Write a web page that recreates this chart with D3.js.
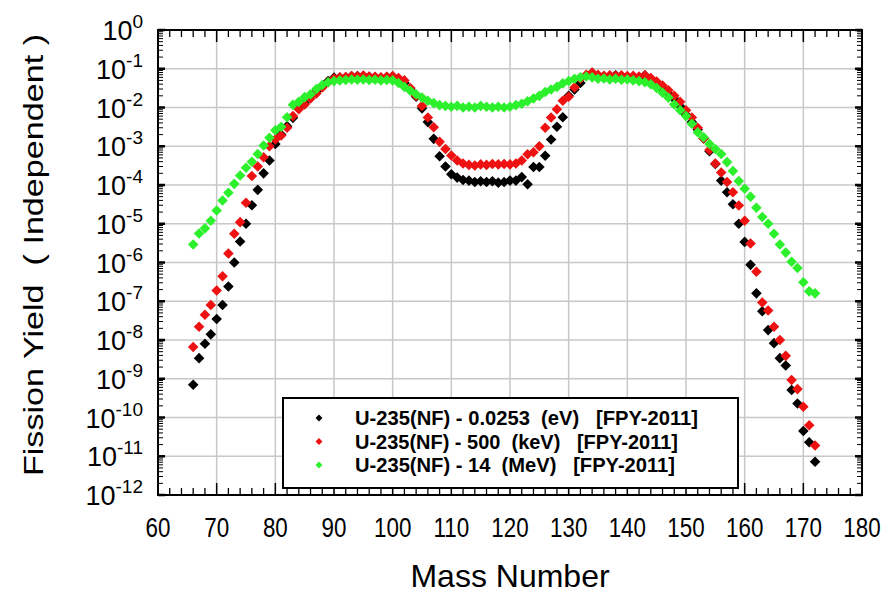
<!DOCTYPE html>
<html>
<head>
<meta charset="utf-8">
<script src="https://cdn.jsdelivr.net/npm/d3@7"></script>
<style>
  body { margin: 0; background: #fff; }
  svg text { font-family: "Liberation Sans", Arial, sans-serif; fill: #000; }
</style>
</head>
<body>
<div id="chart"></div>
<script>
// mass numbers 66..172
const massNumbers = d3.range(66, 173);

// U-235 thermal (0.0253 eV)
const yieldThermal = [
  7e-10, 3.4e-9, 8e-9, 1.4e-8, 3.5e-8, 8e-8, 2.4e-7, 1e-6, 3.5e-6, 1e-5,
  3e-5, 7.5e-5, 2e-4, 4.3e-4, 1.15e-3, 2e-3, 3.3e-3, 5.4e-3, 1e-2, 1.3e-2,
  2e-2, 2.6e-2, 3.6e-2, 4.8e-2, 5.9e-2, 5.9e-2, 6e-2, 6.4e-2, 6.5e-2, 6.5e-2,
  6.2e-2, 6e-2, 5.8e-2, 6.1e-2, 6.3e-2, 5.2e-2, 4.3e-2, 3e-2, 1.9e-2, 9.5e-3,
  4.2e-3, 1.55e-3, 5.5e-4, 3e-4, 1.9e-4, 1.55e-4, 1.35e-4, 1.3e-4, 1.2e-4, 1.25e-4,
  1.2e-4, 1.25e-4, 1.15e-4, 1.2e-4, 1.3e-4, 1.3e-4, 1.6e-4, 1.05e-4, 2.9e-4, 2.9e-4,
  5.7e-4, 1.5e-3, 3.2e-3, 5.6e-3, 2e-2, 2.9e-2, 4.3e-2, 6.7e-2, 7.9e-2, 6.5e-2,
  6.3e-2, 6.2e-2, 6.8e-2, 6.4e-2, 6.2e-2, 5.9e-2, 5.9e-2, 6.8e-2, 5.5e-2, 3.9e-2,
  3e-2, 2.25e-2, 1.67e-2, 1.08e-2, 6.5e-3, 4.2e-3, 2.7e-3, 1.6e-3, 7.4e-4, 3.5e-4,
  1.3e-4, 6.5e-5, 3.2e-5, 1e-5, 3.4e-6, 8.7e-7, 1.6e-7, 5.5e-8, 1.8e-8, 8.3e-9,
  3.4e-9, 2.2e-9, 5.1e-10, 2.3e-10, 4.5e-11, 2.3e-11, 7.2e-12
];

// U-235 500 keV
const yieldFast = [
  6.6e-9, 2.2e-8, 4.5e-8, 8e-8, 1.9e-7, 4.4e-7, 1.7e-6, 5.5e-6, 1.1e-5, 3.5e-5,
  1.7e-4, 3e-4, 5.2e-4, 1e-3, 1.5e-3, 1.9e-3, 3e-3, 6e-3, 9e-3, 1.2e-2,
  1.7e-2, 2.3e-2, 3.3e-2, 4.5e-2, 5.6e-2, 6e-2, 6.1e-2, 6.5e-2, 6.4e-2, 6.7e-2,
  6.3e-2, 6.2e-2, 6e-2, 6.2e-2, 6.5e-2, 5.8e-2, 5e-2, 3.2e-2, 2e-2, 1.1e-2,
  5.5e-3, 3.1e-3, 1.3e-3, 8.5e-4, 5.8e-4, 4.3e-4, 3.6e-4, 3.3e-4, 3.2e-4, 3.4e-4,
  3.3e-4, 3.5e-4, 3.4e-4, 3.5e-4, 3.4e-4, 3.6e-4, 4.3e-4, 6.2e-4, 7e-4, 1e-3,
  3e-3, 5.5e-3, 9e-3, 1.5e-2, 1.9e-2, 3.3e-2, 5.5e-2, 7e-2, 8e-2, 7e-2,
  6.6e-2, 6.8e-2, 6.6e-2, 6.8e-2, 6.5e-2, 6.6e-2, 6.3e-2, 6.8e-2, 5.8e-2, 4.7e-2,
  3.7e-2, 2.8e-2, 2e-2, 1.4e-2, 8.5e-3, 5.5e-3, 3e-3, 1.6e-3, 8e-4, 3.6e-4,
  2.1e-4, 1.2e-4, 6.5e-5, 2.95e-5, 1.2e-5, 3.1e-6, 5.8e-7, 9.3e-8, 5.8e-8, 2.2e-8,
  1e-8, 3.9e-9, 9.3e-10, 5.4e-10, 1.9e-10, 6.3e-11, 1.9e-11
];

// U-235 14 MeV
const yield14MeV = [
  2.9e-6, 5.6e-6, 7.6e-6, 1.2e-5, 2.2e-5, 4e-5, 6.3e-5, 1.07e-4, 1.75e-4, 2.8e-4,
  4e-4, 6.3e-4, 1.05e-3, 1.65e-3, 2.6e-3, 3.2e-3, 5.6e-3, 1.17e-2, 1.4e-2, 1.85e-2,
  2.2e-2, 3e-2, 3.8e-2, 4.5e-2, 4.8e-2, 5e-2, 5.1e-2, 5.3e-2, 5.2e-2, 5.3e-2,
  5.1e-2, 5.2e-2, 5e-2, 5.1e-2, 5e-2, 4.3e-2, 3.4e-2, 2.7e-2, 2.2e-2, 1.8e-2,
  1.5e-2, 1.3e-2, 1.15e-2, 1.1e-2, 1.05e-2, 1.1e-2, 1e-2, 1.05e-2, 1e-2, 1.1e-2,
  1.05e-2, 1e-2, 1.05e-2, 1e-2, 1.05e-2, 1.15e-2, 1.25e-2, 1.45e-2, 1.7e-2, 2e-2,
  2.5e-2, 2.9e-2, 3.4e-2, 4.2e-2, 4.8e-2, 5.5e-2, 6e-2, 6.3e-2, 6e-2, 5.5e-2,
  5.6e-2, 5.3e-2, 5.5e-2, 5.2e-2, 5.3e-2, 5e-2, 4.8e-2, 4.5e-2, 4e-2, 3.2e-2,
  2.4e-2, 1.8e-2, 1.2e-2, 8.5e-3, 6e-3, 3.8e-3, 2.3e-3, 1.7e-3, 1.15e-3, 8.5e-4,
  6.3e-4, 3.9e-4, 2.3e-4, 1.26e-4, 8e-5, 5e-5, 2.6e-5, 1.5e-5, 1e-5, 5.5e-6,
  2.9e-6, 1.8e-6, 1.05e-6, 7.2e-7, 3.1e-7, 1.8e-7, 1.6e-7
];

const seriesNames = [
  "U-235(NF) - 0.0253  (eV)   [FPY-2011]",
  "U-235(NF) - 500  (keV)   [FPY-2011]",
  "U-235(NF) - 14  (MeV)   [FPY-2011]"
];
const seriesColors = ["#000000", "#ee1111", "#2cf02c"];
const xTicks = [60, 70, 80, 90, 100, 110, 120, 130, 140, 150, 160, 170, 180];
const yExponents = [0, -1, -2, -3, -4, -5, -6, -7, -8, -9, -10, -11, -12];

const width = 888, height = 596;
const plot = { left: 158, right: 862, top: 30, bottom: 495 };

const svg = d3.select('#chart').append('svg')
    .attr('width', width)
    .attr('height', height);

const x = d3.scaleLinear().domain([60, 180]).range([plot.left, plot.right]);
const y = d3.scaleLog().domain([1e-12, 1]).range([plot.bottom, plot.top]);

// grid
const grid = svg.append('g').attr('stroke', '#c8c8c8').attr('stroke-width', 1.5);
xTicks.slice(1, -1).forEach(t => {
    grid.append('line')
        .attr('x1', x(t)).attr('x2', x(t))
        .attr('y1', plot.top).attr('y2', plot.bottom);
});
yExponents.slice(1, -1).forEach(e => {
    grid.append('line')
        .attr('x1', plot.left).attr('x2', plot.right)
        .attr('y1', y(Math.pow(10, e))).attr('y2', y(Math.pow(10, e)));
});

// inward ticks on all four sides
const minorX = d3.range(62, 180, 2).filter(v => v % 10 !== 0);
const tickG = svg.append('g').attr('stroke', '#000');
xTicks.forEach(t => {
    tickG.append('line').attr('x1', x(t)).attr('x2', x(t))
        .attr('y1', plot.bottom).attr('y2', plot.bottom - 12).attr('stroke-width', 1.5);
    tickG.append('line').attr('x1', x(t)).attr('x2', x(t))
        .attr('y1', plot.top).attr('y2', plot.top + 12).attr('stroke-width', 1.5);
});
minorX.forEach(t => {
    tickG.append('line').attr('x1', x(t)).attr('x2', x(t))
        .attr('y1', plot.bottom).attr('y2', plot.bottom - 7).attr('stroke-width', 1.3);
    tickG.append('line').attr('x1', x(t)).attr('x2', x(t))
        .attr('y1', plot.top).attr('y2', plot.top + 7).attr('stroke-width', 1.3);
});
yExponents.forEach(e => {
    const yy = y(Math.pow(10, e));
    tickG.append('line').attr('x1', plot.left).attr('x2', plot.left + 7)
        .attr('y1', yy).attr('y2', yy).attr('stroke-width', 2.5);
    tickG.append('line').attr('x1', plot.right).attr('x2', plot.right - 7)
        .attr('y1', yy).attr('y2', yy).attr('stroke-width', 2.5);
    if (e === 0) return;
    for (let m = 2; m <= 9; m++) {
        const ym = y(m * Math.pow(10, e));
        tickG.append('line').attr('x1', plot.left).attr('x2', plot.left + 5)
            .attr('y1', ym).attr('y2', ym).attr('stroke-width', 1);
        tickG.append('line').attr('x1', plot.right).attr('x2', plot.right - 5)
            .attr('y1', ym).attr('y2', ym).attr('stroke-width', 1);
    }
});

// data points
const diamond = d3.symbol().type(d3.symbolSquare).size(56);
const allSeries = [yieldThermal, yieldFast, yield14MeV];
allSeries.forEach((vals, i) => {
    svg.append('g')
        .selectAll('path')
        .data(massNumbers.map((a, k) => ({ a, v: vals[k] })))
        .enter()
        .append('path')
        .attr('d', diamond)
        .attr('transform', d => `translate(${x(d.a)},${y(d.v)}) rotate(45)`)
        .attr('fill', seriesColors[i]);
});

// frame
svg.append('rect')
    .attr('x', plot.left).attr('y', plot.top)
    .attr('width', plot.right - plot.left).attr('height', plot.bottom - plot.top)
    .attr('fill', 'none').attr('stroke', '#000').attr('stroke-width', 2);

// x tick labels (narrow, tall look of the original)
svg.append('g').selectAll('text')
    .data(xTicks)
    .enter()
    .append('text')
    .attr('transform', d => `translate(${x(d)},537) scale(0.8,1)`)
    .attr('text-anchor', 'middle')
    .style('font-size', '28px')
    .text(d => d);

// y tick labels 10^n
const yLab = svg.append('g').selectAll('text')
    .data(yExponents)
    .enter()
    .append('text')
    .attr('x', 143)
    .attr('y', d => y(Math.pow(10, d)) + 10)
    .attr('text-anchor', 'end')
    .style('font-size', '27px');
yLab.append('tspan').text('10');
yLab.append('tspan')
    .attr('dy', -12)
    .style('font-size', '19px')
    .text(d => d);

// axis titles
svg.append('text')
    .attr('x', 510).attr('y', 587)
    .attr('text-anchor', 'middle')
    .style('font-size', '32px')
    .text('Mass Number');

svg.append('text')
    .attr('transform', 'translate(43,255) rotate(-90) scale(1.22,1)')
    .attr('text-anchor', 'middle')
    .style('font-size', '28px')
    .style('white-space', 'pre')
    .text('Fission Yield  ( Independent )');

// legend
const legend = svg.append('g');
legend.append('rect')
    .attr('x', 283).attr('y', 398)
    .attr('width', 455).attr('height', 90)
    .attr('fill', '#fff').attr('stroke', '#000').attr('stroke-width', 2);
const legendWidths = [343, 323, 320];
seriesNames.forEach((name, i) => {
    const ly = 418 + i * 23.5;
    legend.append('path')
        .attr('d', d3.symbol().type(d3.symbolSquare).size(24))
        .attr('transform', `translate(319,${ly}) rotate(45)`)
        .attr('fill', seriesColors[i]);
    legend.append('text')
        .attr('x', 355).attr('y', ly + 7)
        .attr('textLength', legendWidths[i])
        .attr('lengthAdjust', 'spacingAndGlyphs')
        .style('font-size', '20px')
        .style('font-weight', 'bold')
        .style('white-space', 'pre')
        .text(name);
});
</script>
</body>
</html>
